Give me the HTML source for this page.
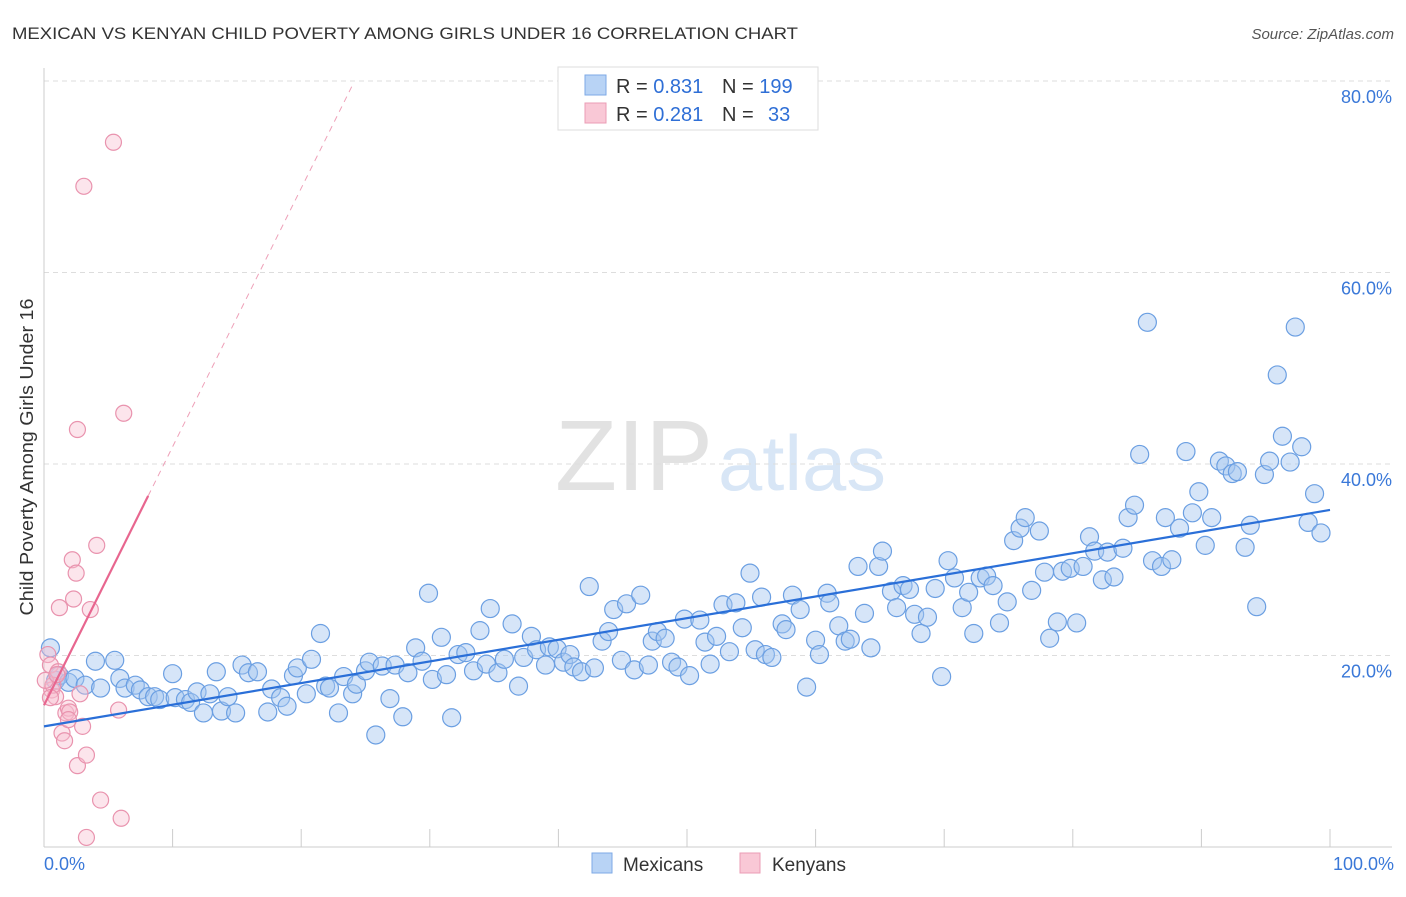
<!DOCTYPE html>
<html><head><meta charset="utf-8">
<style>
body{margin:0;background:#fff;font-family:"Liberation Sans",sans-serif;}
svg text{font-family:"Liberation Sans",sans-serif;}
</style></head>
<body>
<svg id="chart" width="1406" height="892" xmlns="http://www.w3.org/2000/svg">
<text x="12" y="39" font-size="17" fill="#333" textLength="786" lengthAdjust="spacingAndGlyphs">MEXICAN VS KENYAN CHILD POVERTY AMONG GIRLS UNDER 16 CORRELATION CHART</text>
<text x="1394" y="39" font-size="15" fill="#555" font-style="italic" text-anchor="end">Source: ZipAtlas.com</text>
<g>
<text x="555" y="490" font-size="100" fill="#e2e2e2" textLength="158" lengthAdjust="spacingAndGlyphs" font-family="Liberation Serif">ZIP</text>
<text x="718" y="490" font-size="78" fill="#d8e6f6" textLength="168" lengthAdjust="spacingAndGlyphs">atlas</text>
</g>
<g id="grid"></g>
<g id="axes"></g>
<g id="points"></g>
<g id="lines"></g>
<text transform="translate(33,457) rotate(-90)" font-size="18" fill="#333" text-anchor="middle" textLength="317" lengthAdjust="spacingAndGlyphs">Child Poverty Among Girls Under 16</text>
<g>
<rect x="558" y="67" width="260" height="63" fill="#fff" stroke="#ddd"/>
<rect x="585" y="75" width="21" height="20" fill="#b8d3f5" stroke="#7eaae6"/>
<rect x="585" y="103" width="21" height="20" fill="#f9c8d6" stroke="#eb9db5"/>
<text x="616" y="93" font-size="20" fill="#333">R = <tspan fill="#2f6fd6">0.831</tspan></text>
<text x="722" y="93" font-size="20" fill="#333">N = <tspan fill="#2f6fd6">199</tspan></text>
<text x="616" y="121" font-size="20" fill="#333">R = <tspan fill="#2f6fd6">0.281</tspan></text>
<text x="722" y="121" font-size="20" fill="#333">N = <tspan fill="#2f6fd6" x="768">33</tspan></text>
</g>
<g>
<rect x="592" y="853" width="20" height="20" fill="#b8d3f5" stroke="#7eaae6"/>
<text x="623" y="871" font-size="19" fill="#333">Mexicans</text>
<rect x="740" y="853" width="20" height="20" fill="#f9c8d6" stroke="#eb9db5"/>
<text x="772" y="871" font-size="19" fill="#333">Kenyans</text>
</g>
</svg>
<script>
const mexX=[0.5,0.9,1.2,1.9,2.4,3.2,4.0,4.4,5.5,5.9,6.3,7.1,7.5,8.1,8.6,9.0,10.0,10.2,11.0,11.4,11.9,12.4,12.9,13.4,13.8,14.3,14.9,15.4,15.9,16.6,17.4,17.7,18.4,18.9,19.4,19.7,20.4,20.8,21.5,21.9,22.2,22.9,23.3,24.0,24.3,25.0,25.3,25.8,26.3,26.9,27.3,27.9,28.3,28.9,29.4,29.9,30.2,30.9,31.3,31.7,32.2,32.8,33.4,33.9,34.4,34.7,35.3,35.8,36.4,36.9,37.3,37.9,38.3,39.0,39.3,39.9,40.4,40.9,41.2,41.8,42.4,42.8,43.4,43.9,44.3,44.9,45.3,45.9,46.4,47.0,47.3,47.7,48.3,48.8,49.3,49.8,50.2,51.0,51.4,51.8,52.3,52.8,53.3,53.8,54.3,54.9,55.3,55.8,56.1,56.6,57.4,57.7,58.2,58.8,59.3,60.0,60.3,60.9,61.1,61.8,62.3,62.7,63.3,63.8,64.3,64.9,65.2,65.9,66.3,66.8,67.3,67.7,68.2,68.7,69.3,69.8,70.3,70.8,71.4,71.9,72.3,72.8,73.3,73.8,74.3,74.9,75.4,75.9,76.3,76.8,77.4,77.8,78.2,78.8,79.2,79.8,80.3,80.8,81.3,81.7,82.3,82.7,83.2,83.9,84.3,84.8,85.2,85.8,86.2,86.9,87.2,87.7,88.3,88.8,89.3,89.8,90.3,90.8,91.4,91.9,92.4,92.8,93.4,93.8,94.3,94.9,95.3,95.9,96.3,96.9,97.3,97.8,98.3,98.8,99.3];
const mexY=[20.8,17.4,17.9,17.2,17.6,16.9,19.4,16.6,19.5,17.6,16.6,16.9,16.4,15.7,15.7,15.4,18.1,15.6,15.4,15.1,16.2,14.0,16.0,18.3,14.2,15.7,14.0,19.0,18.2,18.3,14.1,16.5,15.6,14.7,17.9,18.7,16.0,19.6,22.3,16.8,16.6,14.0,17.8,16.0,17.0,18.4,19.3,11.7,18.9,15.5,19.0,13.6,18.2,20.8,19.4,26.5,17.5,21.9,18.0,13.5,20.1,20.3,18.4,22.6,19.1,24.9,18.2,19.6,23.3,16.8,19.8,22.0,20.6,19.0,20.9,20.7,19.3,20.1,18.8,18.3,27.2,18.7,21.5,22.5,24.8,19.5,25.4,18.5,26.3,19.0,21.5,22.5,21.8,19.3,18.8,23.8,17.9,23.7,21.4,19.1,22.0,25.3,20.4,25.5,22.9,28.6,20.6,26.1,20.1,19.8,23.3,22.7,26.3,24.8,16.7,21.6,20.1,26.5,25.5,23.1,21.5,21.7,29.3,24.4,20.8,29.3,30.9,26.7,25.0,27.3,26.9,24.3,22.3,24.0,27.0,17.8,29.9,28.1,25.0,26.6,22.3,28.1,28.3,27.3,23.4,25.6,32.0,33.3,34.4,26.8,33.0,28.7,21.8,23.5,28.8,29.1,23.4,29.3,32.4,30.9,27.9,30.8,28.2,31.2,34.4,35.7,41.0,54.8,29.9,29.3,34.4,30.0,33.3,41.3,34.9,37.1,31.5,34.4,40.3,39.8,39.0,39.2,31.3,33.6,25.1,38.9,40.3,49.3,42.9,40.2,54.3,41.8,33.9,36.9,32.8];
const kenX=[0.3,0.5,0.6,0.9,1.1,1.2,1.4,1.6,1.7,1.9,2.0,2.2,2.3,2.5,2.6,2.6,2.8,3.0,3.1,3.3,3.3,3.6,4.1,4.4,5.4,5.8,6.0,6.2,0.7,0.1,0.5,1.9,1.0];
const kenY=[20.1,19.0,16.4,15.7,18.3,25.0,11.9,11.1,14.0,14.5,14.1,30.0,25.9,28.6,43.6,8.5,16.0,12.6,69.0,9.6,1.0,24.8,31.5,4.9,73.6,14.3,3.0,45.3,16.9,17.4,15.6,13.3,18.0];
const mexFit=[12.6,0.226];
const kenFit=[14.8,2.7];
const yTicks=[20,40,60,80];
const xTicks=[0,10,20,30,40,50,60,70,80,90,100];
const NS="http://www.w3.org/2000/svg";
const sx=v=>44+v*12.86, sy=v=>847-v*9.575;
function mk(tag,attrs,parent){const e=document.createElementNS(NS,tag);for(const k in attrs)e.setAttribute(k,attrs[k]);document.getElementById(parent).appendChild(e);return e;}
yTicks.forEach(t=>{
 const l=mk('line',{x1:44,x2:1392,y1:sy(t),y2:sy(t),stroke:'#ddd','stroke-dasharray':'5,4'},'grid');
 
 
 const tx=mk('text',{x:1392,y:sy(t)+22,'font-size':18,fill:'#3a78d8','text-anchor':'end'},'axes');
 tx.textContent=t.toFixed(1)+'%';
 
 
});
const ax=mk('line',{x1:44,x2:44,y1:68,y2:847,stroke:'#ccc'},'axes');


const bx=mk('line',{x1:44,x2:1392,y1:847,y2:847,stroke:'#ccc'},'axes');


xTicks.forEach(t=>{
 const l=mk('line',{x1:sx(t),x2:sx(t),y1:829,y2:847,stroke:'#ccc'},'axes');
 
 
});
[[0,'0.0%','start',44],[100,'100.0%','end',1394]].forEach(a=>{
 const tx=mk('text',{x:a[3],y:870,'font-size':18,fill:'#3a78d8','text-anchor':a[2]},'axes');
 tx.textContent=a[1];
 
 
});
mexX.forEach((x,i)=>{
 const c=mk('circle',{cx:sx(x),cy:sy(mexY[i]),r:9,fill:'rgba(165,198,240,0.45)',stroke:'#6b9fe2','stroke-width':1.2},'points');
 
 
});
kenX.forEach((x,i)=>{
 const c=mk('circle',{cx:sx(x),cy:sy(kenY[i]),r:8,fill:'rgba(248,190,208,0.4)',stroke:'#e993ae','stroke-width':1.2},'points');
 
 
});
const bl=mk('line',{x1:sx(0),y1:sy(mexFit[0]),x2:sx(100),y2:sy(mexFit[0]+mexFit[1]*100),stroke:'#2a6fd8','stroke-width':2.2},'lines');


const ks=mk('line',{x1:sx(0),y1:sy(kenFit[0]),x2:sx(8.1),y2:sy(kenFit[0]+kenFit[1]*8.1),stroke:'#e8668f','stroke-width':2.2},'lines');


const kd=mk('line',{x1:sx(8.1),y1:sy(kenFit[0]+kenFit[1]*8.1),x2:sx(24),y2:sy(kenFit[0]+kenFit[1]*24),stroke:'#eea0b8','stroke-width':1,'stroke-dasharray':'6,5'},'lines');


</script>
</body></html>
